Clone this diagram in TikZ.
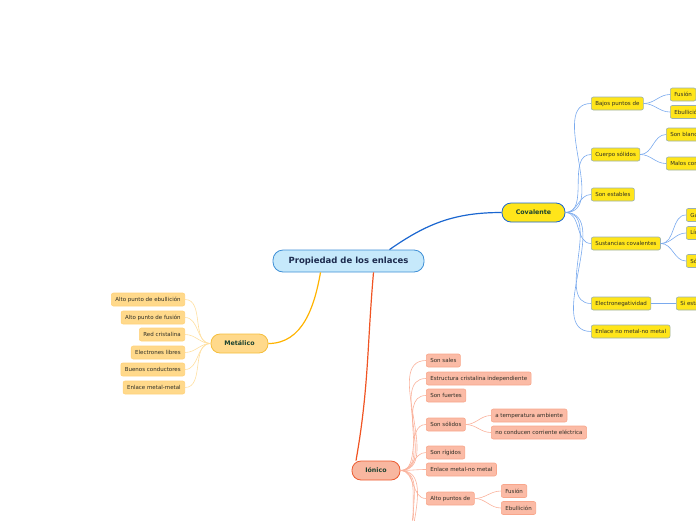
\documentclass[tikz,border=0pt]{standalone}
\usepackage{fontspec}
\setmainfont{DejaVu Sans}
\usetikzlibrary{positioning}
\definecolor{rootFill}{HTML}{C6E9FB}
\definecolor{rootDraw}{HTML}{3E8FD6}
\definecolor{rootText}{HTML}{1C2B4E}
\definecolor{mainText}{HTML}{1A4230}
\definecolor{leafText}{HTML}{2E2E26}
\definecolor{covFill}{HTML}{FFE51A}
\definecolor{covDraw}{HTML}{1A66D0}
\definecolor{covLeafDraw}{HTML}{9AB0B0}
\definecolor{covThin}{HTML}{7AAAEE}
\definecolor{metFill}{HTML}{FFD98B}
\definecolor{metDraw}{HTML}{F5BE3C}
\definecolor{metLine}{HTML}{FFB300}
\definecolor{metLeafDraw}{HTML}{FFD27A}
\definecolor{metThin}{HTML}{FFDFA0}
\definecolor{ionFill}{HTML}{F8B7A0}
\definecolor{ionDraw}{HTML}{EC5B30}
\definecolor{ionLine}{HTML}{F05423}
\definecolor{ionLeafFill}{HTML}{FBBBA6}
\definecolor{ionLeafDraw}{HTML}{F8A68B}
\definecolor{ionThin}{HTML}{FAB29C}
\tikzset{
  rootbox/.style={rectangle, rounded corners=10pt, draw=rootDraw, fill=rootFill,
                  text=rootText, font=\bfseries\fontsize{8.5}{9}\selectfont,
                  minimum width=151pt, minimum height=22pt, line width=0.8pt},
  mainbox/.style={rectangle, rounded corners=9pt, line width=0.8pt,
                  text=mainText, font=\bfseries\fontsize{6.3}{7}\selectfont,
                  minimum height=19pt},
  covbox/.style={mainbox, draw=covDraw, fill=covFill, minimum width=63pt},
  metbox/.style={mainbox, draw=metDraw, fill=metFill, minimum width=57pt},
  ionbox/.style={mainbox, draw=ionDraw, fill=ionFill, minimum width=48pt},
  leaf/.style={rectangle, rounded corners=2pt, line width=0.6pt, text=leafText,
               font=\fontsize{5.5}{6}\selectfont, inner xsep=4pt, inner ysep=0pt,
               minimum height=13pt},
  covleaf/.style={leaf, draw=covLeafDraw, fill=covFill, anchor=west},
  metleaf/.style={leaf, draw=metLeafDraw, fill=metFill, anchor=east},
  ionleaf/.style={leaf, draw=ionLeafDraw, fill=ionLeafFill, anchor=west},
  covline/.style={covDraw, line width=1.2pt},
  metline/.style={metLine, line width=1.2pt},
  ionline/.style={ionLine, line width=1.2pt},
  covthin/.style={covThin, line width=0.6pt},
  metthin/.style={metThin, line width=0.6pt},
  ionthin/.style={ionThin, line width=0.6pt},
}
\begin{document}
\begin{tikzpicture}[x=1pt, y=-1pt]
  \useasboundingbox (0,0) rectangle (696,520);
  \clip (0,0) rectangle (696,520);

  % centre and main branches
  \node[rootbox] (root) at (348.5,261) {Propiedad de los enlaces};
  \node[covbox] (cov) at (533.5,212.5) {Covalente};
  \node[metbox] (met) at (239.5,343.5) {Metálico};
  \node[ionbox] (ion) at (376,470.5) {Iónico};
  \draw[covline] ([xshift=41pt]root.north) to[out=35,in=180] (cov.west);
  \draw[metline] ([xshift=-28pt]root.south) to[out=-100,in=0] (met.east);
  \draw[ionline] ([xshift=25pt]root.south) to[out=-95,in=80] ([xshift=-20pt]ion.north);

  % Covalente
  \foreach \n/\yy/\t in {bp/103.5/Bajos puntos de, cs/154.5/Cuerpo sólidos,
      se/194.5/Son estables, sc/243.5/Sustancias covalentes,
      en/303.5/Electronegatividad, nm/331.5/Enlace no metal-no metal} {
    \node[covleaf] (\n) at (591,\yy) {\t};
    \draw[covthin] (cov.east) to[out=0,in=180] (\n.west);
  }
  \foreach \n/\p/\xx/\yy/\t in {bpf/bp/670/94.5/Fusión, bpe/bp/670/112/Ebullición,
      csb/cs/666/134.5/Son blandos, csm/cs/666/163.5/Malos conductores,
      scg/sc/686/215/Gases, scl/sc/686/233/Líquidos, scs/sc/686/261/Sólidos,
      ens/en/676/303.5/Si están} {
    \node[covleaf] (\n) at (\xx,\yy) {\t};
    \draw[covthin] (\p.east) to[out=0,in=180] (\n.west);
  }

  % Metálico
  \foreach \n/\yy/\t in {ma/299.5/Alto punto de ebullición, mb/317.5/Alto punto de fusión,
      mc/334.5/Red cristalina, md/352.5/Electrones libres,
      me/369.5/Buenos conductores, mf/387.5/Enlace metal-metal} {
    \node[metleaf] (\n) at (185,\yy) {\t};
    \draw[metthin] (met.west) to[out=180,in=0] (\n.east);
  }

  % Iónico
  \foreach \n/\yy/\t in {ia/360.5/Son sales, ib/378.5/Estructura cristalina independiente,
      ic/395.5/Son fuertes, id/424.5/Son sólidos, ie/452.5/Son rígidos,
      if/469.5/Enlace metal-no metal, ig/498.5/Alto puntos de} {
    \node[ionleaf] (\n) at (426,\yy) {\t};
    \draw[ionthin] (ion.east) to[out=0,in=180] (\n.west);
  }
  \foreach \n/\p/\xx/\yy/\t in {ida/id/491/415.5/a temperatura ambiente,
      idb/id/491/432.5/no conducen corriente eléctrica,
      iga/ig/501/491/Fusión, igb/ig/501/508/Ebullición} {
    \node[ionleaf] (\n) at (\xx,\yy) {\t};
    \draw[ionthin] (\p.east) to[out=0,in=180] (\n.west);
  }
  \foreach \n/\yy in {ih/532, ii/552, ij/585} {
    \coordinate (\n) at (426,\yy);
    \draw[ionthin] (ion.east) to[out=0,in=180] (\n);
  }
\end{tikzpicture}
\end{document}
